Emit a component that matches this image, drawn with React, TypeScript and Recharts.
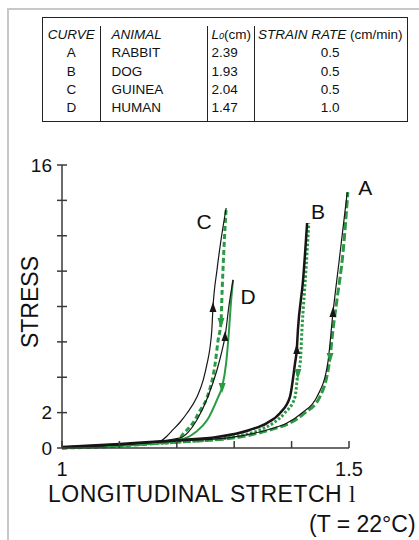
import { Line, LineChart, XAxis, YAxis } from 'recharts';

// table
const curveIds = ['A', 'B', 'C', 'D'];
const animals = ['RABBIT', 'DOG', 'GUINEA', 'HUMAN'];
const restLengths = ['2.39', '1.93', '2.04', '1.47'];
const strainRates = ['0.5', '0.5', '0.5', '1.0'];

// axes
const xTicks = [1, 1.1, 1.2, 1.3, 1.4, 1.5];
const xTickLabels = [1, 1.5];
const yTicks = [0, 2, 4, 6, 8, 10, 12, 14, 16];
const yTickLabels = [0, 2, 16];

// A - rabbit
const aLoadStretch = [1.0, 1.101, 1.206, 1.298, 1.357, 1.392, 1.418, 1.444, 1.463, 1.472, 1.483, 1.497];
const aLoadStress = [0.06, 0.22, 0.4, 0.62, 1.02, 1.41, 1.98, 2.88, 4.8, 7.63, 10.63, 14.47];
const aUnloadStretch = [1.0, 1.101, 1.206, 1.31, 1.362, 1.397, 1.423, 1.449, 1.467, 1.472, 1.479, 1.49, 1.498];
const aUnloadStress = [0.0, 0.17, 0.34, 0.62, 1.02, 1.41, 1.98, 2.88, 5.14, 6.67, 8.37, 11.19, 14.47];

// B - dog
const bLoadStretch = [1.0, 1.101, 1.206, 1.27, 1.327, 1.357, 1.38, 1.397, 1.406, 1.409, 1.411, 1.42, 1.427];
const bLoadStress = [0.06, 0.23, 0.45, 0.62, 1.02, 1.41, 1.98, 2.88, 4.8, 5.54, 6.67, 9.5, 12.72];
const bUnloadStretch = [1.0, 1.101, 1.206, 1.298, 1.345, 1.368, 1.388, 1.406, 1.411, 1.415, 1.418, 1.425, 1.43];
const bUnloadStress = [0.0, 0.18, 0.34, 0.62, 1.02, 1.41, 1.98, 2.88, 4.24, 4.8, 6.67, 10.06, 12.72];

// C - guinea
const cLoadStretch = [1.0, 1.099, 1.153, 1.171, 1.183, 1.193, 1.206, 1.218, 1.235, 1.246, 1.253, 1.258, 1.261, 1.263, 1.27, 1.277, 1.286];
const cLoadStress = [0.06, 0.17, 0.34, 0.4, 0.68, 1.02, 1.47, 1.98, 2.88, 3.84, 4.81, 5.71, 6.67, 7.92, 10.06, 11.76, 13.57];
const cUnloadStretch = [1.0, 1.1, 1.2, 1.214, 1.228, 1.24, 1.253, 1.267, 1.272, 1.277, 1.279, 1.282, 1.286];
const cUnloadStress = [0.0, 0.11, 0.45, 0.9, 1.41, 2.09, 2.88, 4.81, 6.11, 7.12, 8.93, 11.19, 13.57];

// D - human
const dLoadStretch = [1.0, 1.1, 1.206, 1.22, 1.235, 1.254, 1.27, 1.279, 1.284, 1.291, 1.298];
const dLoadStress = [0.06, 0.17, 0.57, 0.9, 1.58, 2.88, 4.41, 5.54, 6.28, 8.08, 9.5];
const dUnloadStretch = [1.0, 1.1, 1.211, 1.233, 1.253, 1.272, 1.279, 1.286, 1.291, 1.294, 1.298];
const dUnloadStress = [0.0, 0.11, 0.51, 0.9, 1.58, 2.88, 3.45, 4.81, 6.67, 8.08, 9.5];

const BLACK = '#161616';
const GREEN = '#2a9a44';
const AXIS = '#3a3a3a';
const FONT = '"Liberation Sans", Arial, Helvetica, sans-serif';

const toPoints = (xs: number[], ys: number[]) => xs.map((x, i) => ({ x, y: ys[i] }));

type Series = {
	key: string;
	data: { x: number; y: number }[];
	color: string;
	width: number;
	dash?: string;
	arrowAt: number;
	up: boolean;
	label?: string;
	labelDx?: number;
	labelDy?: number;
};

const series: Series[] = [
	{ key: 'aUn', data: toPoints(aUnloadStretch, aUnloadStress), color: GREEN, width: 3, dash: '8 3', arrowAt: 8, up: false },
	{ key: 'bUn', data: toPoints(bUnloadStretch, bUnloadStress), color: GREEN, width: 3, dash: '2.5 2', arrowAt: 8, up: false },
	{ key: 'cUn', data: toPoints(cUnloadStretch, cUnloadStress), color: GREEN, width: 3, dash: '5 3', arrowAt: 9, up: false },
	{ key: 'dUn', data: toPoints(dUnloadStretch, dUnloadStress), color: GREEN, width: 2, arrowAt: 6, up: false },
	{ key: 'aLo', data: toPoints(aLoadStretch, aLoadStress), color: BLACK, width: 1.2, arrowAt: 9, up: true, label: curveIds[0], labelDx: 18, labelDy: -5 },
	{ key: 'bLo', data: toPoints(bLoadStretch, bLoadStress), color: BLACK, width: 2.5, arrowAt: 9, up: true, label: curveIds[1], labelDx: 11, labelDy: -12 },
	{ key: 'cLo', data: toPoints(cLoadStretch, cLoadStress), color: BLACK, width: 1.2, arrowAt: 13, up: true, label: curveIds[2], labelDx: -22, labelDy: 14 },
	{ key: 'dLo', data: toPoints(dLoadStretch, dLoadStress), color: BLACK, width: 1.2, arrowAt: 8, up: true, label: curveIds[3], labelDx: 15, labelDy: 17 },
];

const makeDot = (s: Series) => (props: any) => {
	const { cx, cy, index } = props;
	if (cx == null || cy == null) return <g key={`${s.key}-${index}`} />;
	const last = s.data.length - 1;
	return (
		<g key={`${s.key}-${index}`}>
			{index === s.arrowAt &&
				(s.up ? (
					<polygon points={`${cx},${cy - 6} ${cx - 3.5},${cy + 4} ${cx + 3.5},${cy + 4}`} fill={s.color} />
				) : (
					<polygon points={`${cx},${cy + 6} ${cx - 3.5},${cy - 4} ${cx + 3.5},${cy - 4}`} fill={s.color} />
				))}
			{s.label && index === last && (
				<text
					x={cx + (s.labelDx || 0)}
					y={cy + (s.labelDy || 0)}
					textAnchor="middle"
					dominantBaseline="central"
					fontFamily={FONT}
					fontSize={21}
					fill="#111"
				>
					{s.label}
				</text>
			)}
		</g>
	);
};

const YTick = (props: any) => {
	const { x, y, payload } = props;
	return (
		<g>
			<line x1={x - 5} x2={x + 5} y1={y} y2={y} stroke={AXIS} strokeWidth={1.5} />
			{yTickLabels.includes(payload.value) && (
				<text x={x - 10} y={y} textAnchor="end" dominantBaseline="central" fontFamily={FONT} fontSize={19} fill="#111">
					{payload.value}
				</text>
			)}
		</g>
	);
};

const XTick = (props: any) => {
	const { x, y, payload } = props;
	return (
		<g>
			<line x1={x} x2={x} y1={y} y2={y - 7} stroke={AXIS} strokeWidth={1.5} />
			{xTickLabels.includes(payload.value) && (
				<text x={x} y={y + 21} textAnchor="middle" dominantBaseline="central" fontFamily={FONT} fontSize={20} fill="#111">
					{payload.value}
				</text>
			)}
		</g>
	);
};

const cell = (extra: any) => ({ lineHeight: '18.3px', height: 18.3, whiteSpace: 'nowrap' as const, ...extra });

const DataTable = () => {
	const colStyle = (w: number, left: boolean) => ({
		width: w,
		boxSizing: 'border-box' as const,
		borderLeft: left ? '1.5px solid #222' : 'none',
	});
	return (
		<div
			style={{
				position: 'absolute',
				left: 42,
				top: 17,
				width: 366,
				height: 105,
				boxSizing: 'border-box',
				border: '1.5px solid #222',
				display: 'flex',
				paddingTop: 8,
				fontFamily: FONT,
				fontSize: 13.5,
				color: '#111',
				background: '#fff',
			}}
		>
			<div style={colStyle(56.5, false)}>
				<div style={cell({ textAlign: 'center', fontStyle: 'italic' })}>CURVE</div>
				{curveIds.map((c) => (
					<div key={c} style={cell({ textAlign: 'center' })}>{c}</div>
				))}
			</div>
			<div style={colStyle(107, true)}>
				<div style={cell({ paddingLeft: 11, fontStyle: 'italic' })}>ANIMAL</div>
				{animals.map((a) => (
					<div key={a} style={cell({ paddingLeft: 11 })}>{a}</div>
				))}
			</div>
			<div style={colStyle(47, true)}>
				<div style={cell({ paddingLeft: 4 })}>
					<i>L</i>
					<i style={{ fontSize: 9 }}>0</i>(cm)
				</div>
				{restLengths.map((l, i) => (
					<div key={i} style={cell({ paddingLeft: 4 })}>{l}</div>
				))}
			</div>
			<div style={colStyle(152.5, true)}>
				<div style={cell({ textAlign: 'center' })}>
					<i>STRAIN RATE</i> (cm/min)
				</div>
				{strainRates.map((r, i) => (
					<div key={i} style={cell({ textAlign: 'center' })}>{r}</div>
				))}
			</div>
		</div>
	);
};

export default function App() {
	return (
		<div style={{ position: 'absolute', left: 0, top: 0, width: 419, height: 540, overflow: 'hidden', background: '#fff' }}>
			<div
				style={{
					position: 'absolute',
					left: 7,
					top: 8,
					width: 420,
					height: 540,
					borderLeft: '2px solid #c8c8c8',
					borderTop: '2px solid #c8c8c8',
				}}
			/>
			<DataTable />
			<div style={{ position: 'absolute', left: 0, top: 0 }}>
				<LineChart width={419} height={540} margin={{ top: 165, left: 61, right: 70, bottom: 91 }}>
					<XAxis
						type="number"
						dataKey="x"
						domain={[1, 1.5]}
						ticks={xTicks}
						height={1}
						tickSize={0}
						tickMargin={0}
						tickLine={false}
						axisLine={{ stroke: AXIS, strokeWidth: 1.5 }}
						tick={<XTick />}
						interval={0}
					/>
					<YAxis
						type="number"
						dataKey="y"
						domain={[0, 16]}
						ticks={yTicks}
						width={1}
						tickSize={0}
						tickMargin={0}
						tickLine={false}
						axisLine={{ stroke: AXIS, strokeWidth: 1.5 }}
						tick={<YTick />}
						interval={0}
					/>
					{series.map((s) => (
						<Line
							key={s.key}
							data={s.data}
							dataKey="y"
							type="monotone"
							stroke={s.color}
							strokeWidth={s.width}
							strokeDasharray={s.dash}
							dot={makeDot(s)}
							activeDot={false}
							isAnimationActive={false}
						/>
					))}
				</LineChart>
			</div>
			<div
				style={{
					position: 'absolute',
					left: 30,
					top: 302,
					transform: 'translate(-50%, -50%) rotate(-90deg)',
					fontFamily: FONT,
					fontSize: 23,
					color: '#111',
					whiteSpace: 'nowrap',
				}}
			>
				STRESS
			</div>
			<div
				style={{
					position: 'absolute',
					left: 48,
					top: 480,
					fontFamily: FONT,
					fontSize: 23,
					letterSpacing: 0.5,
					lineHeight: '28px',
					color: '#111',
					whiteSpace: 'nowrap',
				}}
			>
				LONGITUDINAL STRETCH{' '}
				<span style={{ fontFamily: '"Liberation Serif", "Times New Roman", serif' }}>l</span>
			</div>
			<div
				style={{
					position: 'absolute',
					left: 309,
					top: 510,
					fontFamily: FONT,
					fontSize: 23,
					lineHeight: '28px',
					color: '#111',
					whiteSpace: 'nowrap',
				}}
			>
				(T = 22°C)
			</div>
		</div>
	);
}
